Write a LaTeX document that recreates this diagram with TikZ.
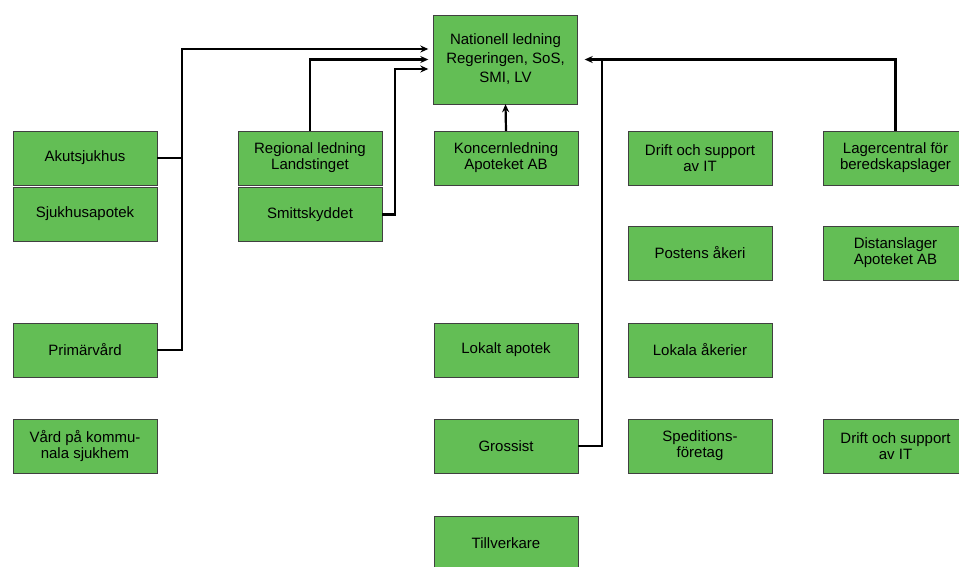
\documentclass[tikz,border=0pt]{standalone}
\usepackage{fontspec}
\setmainfont{Liberation Sans}
\usepackage{tikz}
\usetikzlibrary{arrows.meta,positioning}
\definecolor{boxgreen}{RGB}{99,190,85}
\tikzset{
  box/.style={draw=black!75,fill=boxgreen,minimum width=144pt,minimum height=54pt,
    inner sep=0pt,align=center,font=\fontsize{15}{16}\selectfont},
  line/.style={line width=2.2pt,black},
  conn/.style={line,-{Stealth[length=8pt,width=7pt]}}
}
\begin{document}
\begin{tikzpicture}[x=1pt,y=-1pt]
\useasboundingbox (0,0) rectangle (959,566);
% left column
\node[box] (akut) at (85,158) {Akutsjukhus};
\node[box] (sjuk) at (85,214) {Sjukhusapotek};
\node[box] (prim) at (85,350) {Primärvård};
\node[box] (vard) at (85,446) {Vård på kommu-\\nala sjukhem};
% regional
\node[box] (reg) at (310,158) {Regional ledning\\Landstinget};
\node[box] (smitt) at (310,214.5) {Smittskyddet};
% national and pharmacy chain
\node[box,minimum height=89pt] (nat) at (505.5,59.5) {Nationell ledning\\[3pt]Regeringen, SoS,\\[3pt]SMI, LV};
\node[box] (konc) at (506,158) {Koncernledning\\Apoteket AB};
\node[box] (lokap) at (506,350) {Lokalt apotek};
\node[box] (gross) at (506,446) {Grossist};
\node[box] (till) at (506,543.5) {Tillverkare};
% transport and support
\node[box] (drift) at (700,158) {Drift och support\\av IT};
\node[box] (post) at (700,253) {Postens åkeri};
\node[box] (lokak) at (700,350) {Lokala åkerier};
\node[box] (sped) at (700,446) {Speditions-\\företag};
% storage
\node[box] (lager) at (895.5,158) {Lagercentral för\\beredskapslager};
\node[box] (dist) at (895.5,253) {Distanslager\\Apoteket AB};
\node[box] (drift2) at (895.5,446) {Drift och support\\av IT};
% connectors
\draw[line] (akut.east) -- ++(25,0);
\draw[conn,shorten >=5pt] (prim.east) -- ++(25,0) |- ([yshift=10.5pt]nat.west);
\draw[conn,shorten >=5pt] (reg.north) |- (nat.west);
\draw[conn,shorten >=5pt] (smitt.east) -- ++(13,0) |- ([yshift=-9.5pt]nat.west);
\draw[conn] (konc.north) -- (nat.south);
\draw[conn,shorten >=7pt] (lager.north) |- (nat.east);
\draw[line] (gross.east) -| ([xshift=24pt]nat.east);
\end{tikzpicture}
\end{document}
